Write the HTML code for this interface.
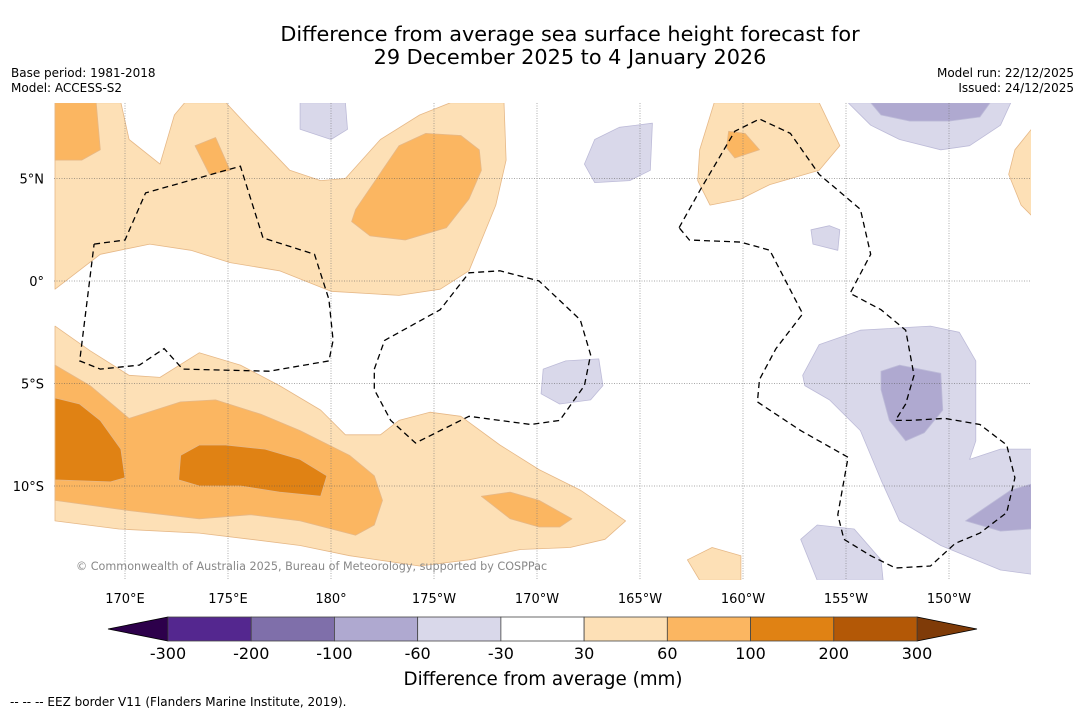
<!DOCTYPE html>
<html><head><meta charset="utf-8">
<style>
html,body{margin:0;padding:0;background:#fff;}
body{width:1085px;height:713px;overflow:hidden;font-family:"DejaVu Sans","Liberation Sans",sans-serif;}
svg text{font-family:"DejaVu Sans","Liberation Sans",sans-serif;}
</style></head>
<body>
<svg id="chart" width="1085" height="713" viewBox="0 0 1085 713" xmlns="http://www.w3.org/2000/svg">
<rect width="1085" height="713" fill="#fff"/>
<text x="570" y="41" font-size="20.8" text-anchor="middle" fill="#000">Difference from average sea surface height forecast for</text>
<text x="570" y="64" font-size="20.8" text-anchor="middle" fill="#000">29 December 2025 to 4 January 2026</text>
<text x="11" y="77" font-size="12">Base period: 1981-2018</text>
<text x="11" y="92" font-size="12">Model: ACCESS-S2</text>
<text x="1074" y="77" font-size="12" text-anchor="end">Model run: 22/12/2025</text>
<text x="1074" y="92" font-size="12" text-anchor="end">Issued: 24/12/2025</text>
<defs><clipPath id="mapclip"><rect x="54" y="103" width="977" height="477"/></clipPath></defs>
<g id="map" clip-path="url(#mapclip)"></g>
<g id="grid"></g>
<g id="eez" clip-path="url(#mapclip)"></g>
<text x="76" y="570" font-size="11.2" fill="#888">© Commonwealth of Australia 2025, Bureau of Meteorology, supported by COSPPac</text>
<g id="axes"></g>
<g id="cbar"></g>
<text x="543" y="685" font-size="18.3" text-anchor="middle">Difference from average (mm)</text>
<text x="10" y="706" font-size="12">--  --  -- EEZ border V11 (Flanders Marine Institute, 2019).</text>
</svg>
<script>
const levels=[-300,-200,-100,-60,-30,30,60,100,200,300];
const levelColors=["#54278f","#7f6faa","#afa9d0","#d9d8ea","#ffffff","#fde0b6","#fbb661","#e08214","#b35806"];
const underColor="#2d004b", overColor="#7f3b08";
const lonTicks=[170,175,180,185,190,195,200,205,210];
const lonTickLabels=["170°E","175°E","180°","175°W","170°W","165°W","160°W","155°W","150°W"];
const latTicks=[5,0,-5,-10];
const latTickLabels=["5°N","0°","5°S","10°S"];
const lightOrangeN=[[166.6,8.7],[169.8,8.7],[170.2,6.9],[171.7,5.7],[172.4,8.1],[172.9,8.7],[174.9,8.7],[176.1,7.4],[178.0,5.4],[179.5,4.9],[180.7,5.0],[182.4,6.9],[184.3,8.1],[185.8,8.7],[188.4,8.7],[188.5,5.9],[188.0,3.7],[186.7,0.5],[185.3,-0.4],[183.3,-0.7],[180.0,-0.5],[177.5,0.5],[175.1,0.9],[173.2,1.5],[171.2,1.8],[168.8,1.3],[166.6,-0.4]];
const orangeNW=[[166.6,8.7],[168.6,8.7],[168.8,6.4],[167.9,5.9],[166.6,5.9]];
const orangeN1=[[173.4,6.6],[174.4,7.0],[175.1,5.4],[174.1,5.2]];
const orangeN2=[[181.2,3.5],[183.3,6.6],[184.6,7.2],[186.3,7.1],[187.2,6.4],[187.3,5.4],[186.7,4.0],[185.6,2.6],[183.6,2.0],[181.9,2.2],[181.0,2.9]];
const lightOrangeNE=[[197.9,6.4],[198.6,8.7],[203.7,8.7],[204.7,6.6],[203.7,5.4],[201.3,4.7],[199.9,4.0],[198.4,3.7],[197.8,4.9]];
const orangeNE=[[199.3,7.3],[200.1,7.2],[200.8,6.4],[199.6,6.0],[199.2,6.5]];
const lightOrangeE=[[214.0,7.4],[213.2,6.4],[212.9,5.2],[213.5,3.7],[214.0,3.2]];
const lightOrangeS=[[166.6,-2.2],[168.3,-3.4],[170.2,-4.6],[171.7,-4.7],[173.6,-3.5],[175.6,-4.1],[177.5,-5.1],[179.5,-6.3],[180.7,-7.5],[182.4,-7.5],[183.3,-6.8],[184.8,-6.4],[186.3,-6.6],[188.2,-8.0],[190.1,-9.2],[192.1,-10.2],[194.3,-11.7],[193.3,-12.6],[191.6,-13.0],[189.2,-13.1],[186.7,-13.6],[184.3,-13.9],[180.9,-13.4],[178.5,-12.9],[176.1,-12.6],[173.6,-12.3],[169.7,-12.1],[166.6,-11.7]];
const orangeS=[[166.6,-4.1],[168.3,-5.1],[170.2,-6.7],[172.7,-5.9],[174.4,-5.8],[176.6,-6.5],[178.5,-7.3],[180.9,-8.5],[182.1,-9.5],[182.5,-10.7],[182.1,-11.9],[181.2,-12.4],[178.5,-11.7],[176.1,-11.4],[173.6,-11.6],[170.2,-11.2],[166.6,-10.7]];
const darkOrangeS1=[[166.6,-5.7],[167.8,-6.0],[168.8,-6.8],[169.8,-8.2],[170.0,-9.6],[169.3,-9.8],[166.6,-9.7]];
const darkOrangeS2=[[172.7,-8.5],[173.6,-8.0],[174.9,-8.0],[176.8,-8.2],[178.5,-8.7],[179.8,-9.5],[179.5,-10.5],[177.5,-10.3],[175.6,-10.0],[173.6,-10.0],[172.6,-9.7]];
const orangeS3=[[187.3,-10.5],[188.7,-10.3],[190.1,-10.7],[191.7,-11.6],[191.1,-12.0],[190.1,-12.0],[188.7,-11.6]];
const lightOrangeSE=[[197.3,-13.6],[198.5,-13.0],[199.9,-13.4],[199.9,-14.6],[197.9,-14.6]];
const purpleA=[[178.5,8.7],[180.7,8.7],[180.8,7.4],[180.0,6.9],[178.5,7.4]];
const purpleB=[[192.3,5.7],[192.8,6.9],[194.0,7.5],[195.6,7.7],[195.5,5.4],[194.5,4.9],[192.8,4.8]];
const purpleC=[[205.1,8.7],[213.0,8.7],[212.5,7.6],[211.0,6.6],[209.6,6.4],[207.6,6.9],[206.2,7.6]];
const purpleCdark=[[206.2,8.7],[212.0,8.7],[211.5,8.0],[210.0,7.8],[208.1,7.8],[206.7,8.1]];
const purpleD=[[203.3,2.5],[204.2,2.7],[204.7,2.5],[204.6,1.5],[203.4,1.8]];
const purpleE=[[190.3,-4.3],[191.4,-3.9],[193.0,-3.8],[193.2,-5.1],[192.6,-5.8],[191.1,-6.0],[190.2,-5.5]];
const purpleF=[[202.9,-4.6],[203.7,-3.1],[205.7,-2.4],[209.1,-2.2],[210.5,-2.5],[211.3,-3.9],[211.3,-7.8],[211.0,-8.7],[212.5,-8.2],[214.0,-8.2],[214.0,-14.3],[212.5,-14.1],[209.6,-12.9],[207.6,-11.7],[206.7,-9.7],[205.7,-7.3],[204.2,-5.8],[203.0,-5.1]];
const purpleFdark=[[206.7,-4.4],[207.6,-4.1],[209.6,-4.5],[209.7,-6.3],[208.8,-7.4],[207.9,-7.8],[207.1,-6.8],[206.7,-5.3]];
const purpleGdark=[[210.8,-11.7],[213.0,-10.2],[214.0,-9.9],[214.0,-12.1],[212.5,-12.2]];
const purpleH=[[202.8,-12.6],[203.6,-11.9],[205.4,-12.1],[206.7,-13.6],[206.8,-14.6],[203.6,-14.6]];
const contours=[
 [5,lightOrangeN,"light-orange-north"],[6,orangeNW,"orange-northwest"],[6,orangeN1,"orange-north-small"],[6,orangeN2,"orange-north-blob"],
 [5,lightOrangeNE,"light-orange-northeast"],[6,orangeNE,"orange-northeast"],[5,lightOrangeE,"light-orange-east"],
 [5,lightOrangeS,"light-orange-south"],[6,orangeS,"orange-south"],[7,darkOrangeS1,"dark-orange-southwest"],[7,darkOrangeS2,"dark-orange-south"],
 [6,orangeS3,"orange-south-small"],[5,lightOrangeSE,"light-orange-southeast"],
 [3,purpleA,"purple-north-small"],[3,purpleB,"purple-north"],[3,purpleC,"purple-northeast"],[2,purpleCdark,"purple-northeast-core"],
 [3,purpleD,"purple-east-small"],[3,purpleE,"purple-central"],[3,purpleF,"purple-southeast"],[2,purpleFdark,"purple-southeast-core"],
 [2,purpleGdark,"purple-far-southeast"],[3,purpleH,"purple-south"]
];
const eez1=[[168.5,1.8],[170.0,2.0],[171.0,4.3],[175.6,5.6],[176.7,2.1],[179.2,1.3],[179.9,-0.9],[180.1,-2.9],[179.9,-3.9],[177.0,-4.4],[172.8,-4.3],[171.9,-3.3],[170.7,-4.1],[168.8,-4.3],[167.8,-3.9],[168.5,1.8]];
const eez2=[[182.1,-4.3],[182.6,-2.9],[185.3,-1.4],[186.7,0.4],[188.2,0.5],[190.1,0],[192.1,-1.9],[192.6,-3.6],[192.3,-5.1],[191.1,-6.8],[189.7,-7.0],[186.7,-6.6],[184.1,-7.9],[182.9,-6.8],[182.1,-5.3],[182.1,-4.3]];
const eez3=[[196.9,2.6],[197.9,4.4],[199.6,7.3],[200.8,7.9],[202.3,7.2],[203.7,5.2],[205.7,3.5],[206.2,1.3],[205.2,-0.6],[206.7,-1.4],[207.9,-2.4],[208.3,-4.6],[207.9,-6.0],[207.4,-6.8],[208.1,-6.8],[209.8,-6.7],[211.5,-7.0],[212.8,-8.0],[213.2,-9.6],[212.8,-11.3],[211.5,-12.3],[210.3,-12.8],[209.1,-13.9],[207.4,-14.0],[206.2,-13.4],[204.9,-12.6],[204.6,-11.4],[205.1,-8.6],[202.8,-7.3],[200.7,-5.9],[200.8,-4.8],[201.6,-3.3],[202.9,-1.6],[201.3,1.5],[199.9,1.9],[197.4,2.0],[196.9,2.6]];
const eezLines=[eez1,eez2,eez3];

const X0=54,X1=1031,Y0=103,Y1=580;
const pxPerDeg=20.6;
const xScale=lon=>125+(lon-170)*pxPerDeg;
const yScale=lat=>281-lat*20.5;
const NS="http://www.w3.org/2000/svg";
function mk(tag,attrs,parent){const e=document.createElementNS(NS,tag);for(const k in attrs)e.setAttribute(k,attrs[k]);parent.appendChild(e);return e;}
function pathOf(pts,close){return pts.map((p,i)=>(i?"L":"M")+xScale(p[0]).toFixed(1)+","+yScale(p[1]).toFixed(1)).join("")+(close?"Z":"");}

const map=document.getElementById("map");
contours.forEach(c=>{
  const p=mk("path",{d:pathOf(c[1],true),fill:levelColors[c[0]],stroke:c[0]>=5?"#e6b887":"#bdbbd8","stroke-width":0.8,"stroke-linejoin":"round"},map);
  
  
});
const grid=document.getElementById("grid");
lonTicks.forEach(l=>{
  const ln=mk("line",{x1:xScale(l),x2:xScale(l),y1:Y0,y2:Y1,stroke:"#777","stroke-width":0.6,"stroke-dasharray":"1,1.5"},grid);
  
  
});
latTicks.forEach(l=>{
  const ln=mk("line",{x1:X0,x2:X1,y1:yScale(l),y2:yScale(l),stroke:"#555","stroke-width":0.6,"stroke-dasharray":"1,1.5"},grid);
  
  
});
const eez=document.getElementById("eez");
eezLines.forEach(pts=>{
  const p=mk("path",{d:pathOf(pts,false),fill:"none",stroke:"#000","stroke-width":1.3,"stroke-dasharray":"6,4"},eez);
  
  
});
const axes=document.getElementById("axes");
lonTicks.forEach((l,i)=>{
  const t=mk("text",{x:xScale(l),y:603,"font-size":13,"text-anchor":"middle"},axes);
  t.textContent=lonTickLabels[i];
  
  
});
latTicks.forEach((l,i)=>{
  const t=mk("text",{x:44,y:yScale(l)+5,"font-size":13,"text-anchor":"end"},axes);
  t.textContent=latTickLabels[i];
  
  
});
const cb=document.getElementById("cbar");
const cbX0=168,cbX1=917,cbY=617,cbH=24;
const bw=(cbX1-cbX0)/levelColors.length;
const tl=mk("polygon",{points:`${cbX0},${cbY} ${cbX0},${cbY+cbH} 108,${cbY+cbH/2}`,fill:underColor,stroke:"#000","stroke-width":0.8},cb);


const tr=mk("polygon",{points:`${cbX1},${cbY} ${cbX1},${cbY+cbH} 977,${cbY+cbH/2}`,fill:overColor,stroke:"#000","stroke-width":0.8},cb);


levelColors.forEach((c,i)=>{
  const r=mk("rect",{x:cbX0+i*bw,y:cbY,width:bw,height:cbH,fill:c,stroke:"#444","stroke-width":0.8},cb);
  
  
});
levels.forEach((v,i)=>{
  const t=mk("text",{x:cbX0+i*bw,y:659,"font-size":16,"text-anchor":"middle"},cb);
  t.textContent=String(v);
  
  
});
</script>
</body></html>
